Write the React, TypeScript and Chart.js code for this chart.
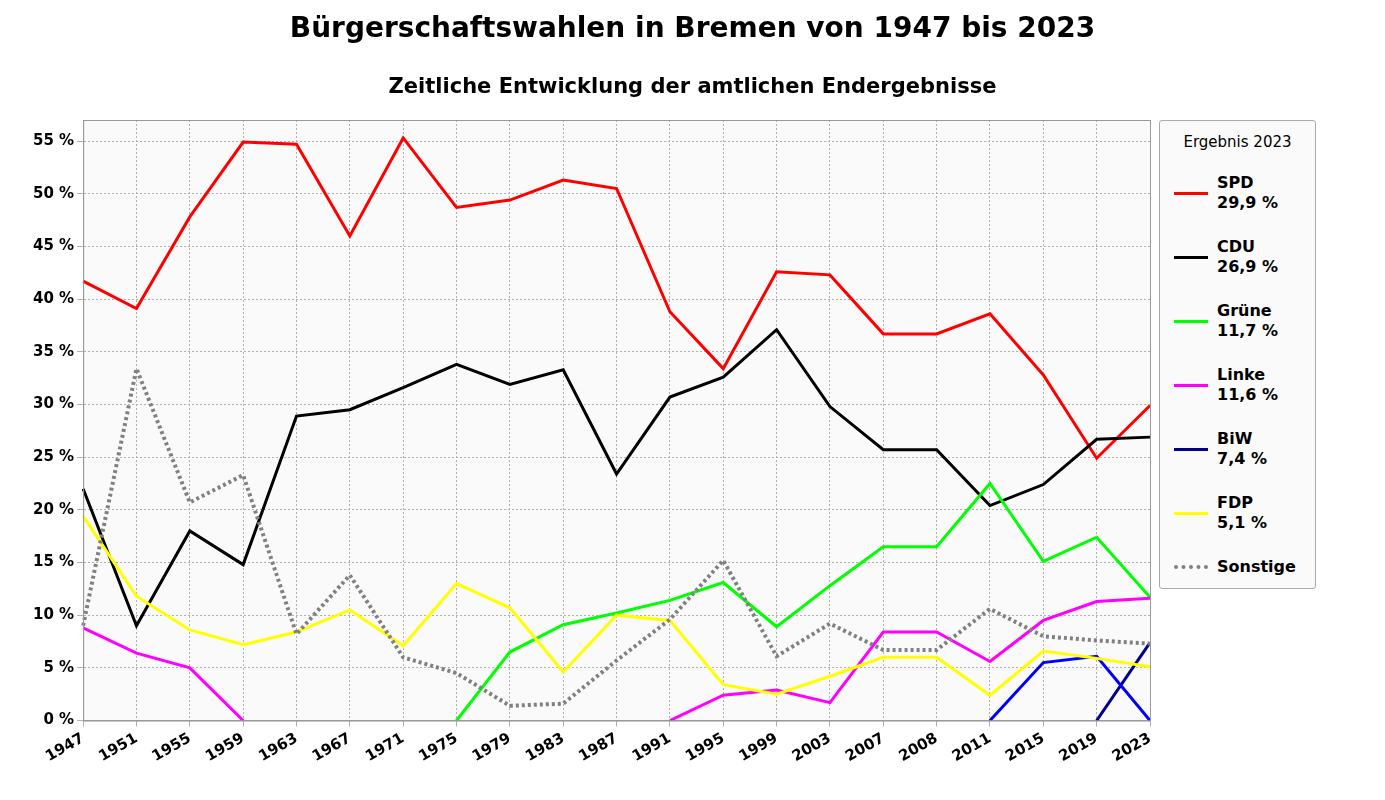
import React, { useEffect, useRef } from "react";
import { Chart, registerables } from "chart.js";
Chart.register(...registerables);

const years = ["1947","1951","1955","1959","1963","1967","1971","1975","1979","1983","1987","1991","1995","1999","2003","2007","2008","2011","2015","2019","2023"];
const N = null;
const spd = [41.7,39.1,47.8,54.9,54.7,46.0,55.3,48.7,49.4,51.3,50.5,38.8,33.4,42.6,42.3,36.7,36.7,38.6,32.8,24.9,29.9];
const cdu = [22.0,9.0,18.0,14.8,28.9,29.5,31.6,33.8,31.9,33.3,23.4,30.7,32.6,37.1,29.8,25.7,25.7,20.4,22.4,26.7,26.9];
const gruene = [N,N,N,N,N,N,N,0,6.5,9.1,10.2,11.4,13.1,8.9,12.8,16.5,16.5,22.5,15.1,17.4,11.7];
const linke = [8.8,6.4,5.0,0,N,N,N,N,N,N,N,0,2.4,2.9,1.7,8.4,8.4,5.6,9.5,11.3,11.6];
const biw = [N,N,N,N,N,N,N,N,N,N,N,N,N,N,N,N,N,N,N,0,7.4];
const blue = [N,N,N,N,N,N,N,N,N,N,N,N,N,N,N,N,N,0,5.5,6.1,0];
const fdp = [19.4,11.8,8.6,7.2,8.4,10.5,7.1,13.0,10.7,4.6,10.0,9.5,3.4,2.5,4.2,6.0,6.0,2.4,6.6,5.9,5.1];
const sonstige = [9.0,33.4,20.7,23.3,8.2,13.8,6.0,4.5,1.4,1.6,5.7,9.6,15.2,6.1,9.2,6.7,6.7,10.6,8.0,7.6,7.3];

const legendItems = [
  { name: "SPD", val: "29,9 %", color: "#ff0000", dash: false },
  { name: "CDU", val: "26,9 %", color: "#000000", dash: false },
  { name: "Grüne", val: "11,7 %", color: "#00ff00", dash: false },
  { name: "Linke", val: "11,6 %", color: "#ff00ff", dash: false },
  { name: "BiW", val: "7,4 %", color: "#00008b", dash: false },
  { name: "FDP", val: "5,1 %", color: "#ffff00", dash: false },
  { name: "Sonstige", val: "", color: "#808080", dash: true },
];

const font = "'DejaVu Sans', sans-serif";

export default function App() {
  const ref = useRef<HTMLCanvasElement>(null);
  useEffect(() => {
    document.body.style.margin = "0";
    const ds = (label: string, data: any[], color: string, dash = false) => ({
      label, data, borderColor: color, backgroundColor: color, borderWidth: dash ? 4 : 3,
      borderDash: dash ? [3, 3] : [], pointRadius: 0, tension: 0, spanGaps: false,
    });
    const bg = {
      id: "bg",
      beforeDraw(c: any) {
        const a = c.chartArea; const ctx = c.ctx;
        ctx.save(); ctx.fillStyle = "#fafafa"; ctx.fillRect(a.left, a.top, a.right - a.left, a.bottom - a.top); ctx.restore();
      },
      afterDraw(c: any) {
        const a = c.chartArea; const ctx = c.ctx;
        ctx.save(); ctx.strokeStyle = "#999"; ctx.lineWidth = 1; ctx.strokeRect(a.left + 0.5, a.top + 0.5, a.right - a.left, a.bottom - a.top); ctx.restore();
      },
    };
    const chart = new Chart(ref.current!, {
      type: "line",
      data: {
        labels: years,
        datasets: [
          ds("Sonstige", sonstige, "#808080", true),
          ds("FDP", fdp, "#ffff00"),
          ds("Andere", blue, "#0000ff"),
          ds("BiW", biw, "#00008b"),
          ds("Linke", linke, "#ff00ff"),
          ds("Grüne", gruene, "#00ff00"),
          ds("CDU", cdu, "#000000"),
          ds("SPD", spd, "#ff0000"),
        ],
      },
      options: {
        animation: false, responsive: false,
        layout: { padding: { left: 30, right: 235, top: 120, bottom: 31 } },
        plugins: { legend: { display: false }, tooltip: { enabled: false } },
        scales: {
          x: {
            offset: false,
            grid: { color: "#b0b0b0", tickLength: 6 } as any,
            border: { dash: [2, 2], color: "#999" } as any,
            ticks: { color: "#000", maxRotation: 30, minRotation: 30, font: { family: font, size: 15, weight: "bold" } },
          },
          y: {
            min: 0, max: 57,
            afterBuildTicks: (s: any) => { s.ticks = s.ticks.filter((t: any) => t.value % 5 === 0); },
            grid: { color: "#b0b0b0", tickLength: 6 } as any,
            border: { dash: [2, 2], color: "#999" } as any,
            ticks: { stepSize: 5, color: "#000", font: { family: font, size: 15, weight: "bold" }, callback: (v: any) => v + " %" },
          },
        },
      },
      plugins: [bg],
    } as any);
    return () => chart.destroy();
  }, []);
  return (
    <div style={{ position: "relative", width: 1385, height: 800, fontFamily: font }}>
      <div style={{ position: "absolute", left: 0, width: 1385, top: 11, textAlign: "center", fontSize: 28, fontWeight: "bold" }}>Bürgerschaftswahlen in Bremen von 1947 bis 2023</div>
      <div style={{ position: "absolute", left: 0, width: 1385, top: 74, textAlign: "center", fontSize: 21, fontWeight: "bold" }}>Zeitliche Entwicklung der amtlichen Endergebnisse</div>
      <canvas ref={ref} width={1385} height={800} style={{ display: "block" }} />
      <div style={{ position: "absolute", left: 1159, top: 120, width: 155, height: 467, border: "1px solid #aaa", borderRadius: 3, background: "#fafafa", color: "#000" }}>
        <div style={{ textAlign: "center", fontSize: 15, marginTop: 12 }}>Ergebnis 2023</div>
        {legendItems.map((it, i) => (
          <div key={i} style={{ position: "absolute", left: 14, top: 52 + i * 64, display: "flex", alignItems: "center" }}>
            <div style={{ width: 34, height: 0, borderTop: `${it.dash ? 4 : 3}px ${it.dash ? "dotted" : "solid"} ${it.color}`, marginRight: 9 }} />
            <div style={{ fontSize: 16, fontWeight: "bold", lineHeight: "20px" }}>
              <div>{it.name}</div>
              {it.val && <div>{it.val}</div>}
            </div>
          </div>
        ))}
      </div>
    </div>
  );
}
